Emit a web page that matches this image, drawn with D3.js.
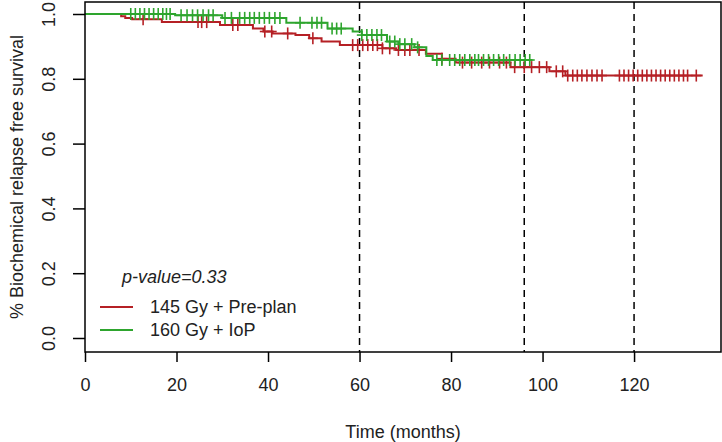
<!DOCTYPE html>
<html><head><meta charset="utf-8">
<script src="https://cdnjs.cloudflare.com/ajax/libs/d3/7.8.5/d3.min.js"></script>
<style>
body{margin:0;background:#fff;}
svg{display:block;font-family:"Liberation Sans",Arial,sans-serif;}
</style></head>
<body><svg id="c" width="722" height="442"></svg>
<script>
// ---- data ----
const xTicks = [0, 20, 40, 60, 80, 100, 120];
const yTicks = [0, 0.2, 0.4, 0.6, 0.8, 1.0];
const refLines = [60, 96, 120];
const seriesNames = ["145 Gy + Pre-plan", "160 Gy + IoP"];
const pValueText = "p-value=0.33";

// 145 Gy + Pre-plan: event times and survival after each event
const redTimes = [7.9, 8.8, 10.3, 16.8, 29.5, 36.7, 39, 41, 46, 49, 51.7, 55.7, 65, 68, 74.5, 78, 81, 93, 101.5, 105];
const redSurv  = [0.993, 0.988, 0.984, 0.975, 0.966, 0.955, 0.946, 0.94, 0.935, 0.925, 0.915, 0.904, 0.894, 0.889, 0.877, 0.862, 0.85, 0.836, 0.823, 0.81];
const redEnd = 135;
const redCensor = [12.7, 24.7, 25.5, 26.6, 32.3, 33.4, 39.3, 40.8, 44.3, 49.8, 58.5, 59.6, 60.7, 61.8, 62.9, 63.9, 65, 66.6, 68.5, 69.9, 71, 73, 78,
  82.5, 84.5, 86.7, 88.4, 90.6, 92.1, 93.9, 96, 97.6, 99.3, 100.9, 103, 104.4, 105.5, 106.6, 107.6, 108.6, 109.7, 110.8, 111.9, 113,
  116.8, 117.8, 118.8, 119.8, 120.8, 121.8, 122.8, 123.8, 124.8, 125.8, 126.8, 127.8, 128.8, 129.8, 130.8, 131.7, 133.6];

// 160 Gy + IoP
const greenTimes = [19.7, 30, 44, 53, 58.5, 60.5, 66, 68.5, 72, 74.6, 76];
const greenSurv  = [0.996, 0.988, 0.973, 0.955, 0.946, 0.935, 0.915, 0.907, 0.897, 0.87, 0.858];
const greenEnd = 97.8;
const greenCensor = [10, 11, 12, 13, 14, 15, 16, 17, 17.8, 18.6, 21, 22.3, 23.5, 24.6, 25.8, 27, 28, 30.6, 32, 33.8,
  34.9, 36, 37, 38.1, 39.2, 40.3, 41.5, 42.6, 47, 49.6, 50.7, 51.7, 54, 55, 56, 60.5, 61.6, 62.7, 63.8, 64.8,
  66.6, 67.7, 68.8, 69.9, 71.4, 72.7, 76.9, 78, 79.7, 80.8, 81.9, 83, 84.1, 85.2, 86, 87.1, 88.2, 89.3, 90.4, 91.5, 92.8,
  94, 95.1, 96.2, 97.2];

// ---- layout ----
const box = {l: 85, r: 721, t: 2, b: 352};
const x = d3.scaleLinear().domain([0, 139]).range([box.l, box.r]);
const y = d3.scaleLinear().domain([0, 1]).range([338, 14]);
const redCol = "#b52025", greenCol = "#2ea52e";
const FS = 18;

const svg = d3.select("#c");

// reference dashed lines
svg.append("g").selectAll("line").data(refLines).join("line")
  .attr("x1", d => x(d)).attr("x2", d => x(d))
  .attr("y1", box.t).attr("y2", box.b)
  .attr("stroke", "#000").attr("stroke-width", 1.5).attr("stroke-dasharray", "7,5");

function stepPts(times, surv, end) {
  const pts = [[0, 1]];
  times.forEach((t, i) => pts.push([t, surv[i]]));
  pts.push([end, surv[surv.length - 1]]);
  return pts;
}
function survAt(times, surv, t) {
  let s = 1;
  for (let i = 0; i < times.length; i++) if (times[i] <= t) s = surv[i];
  return s;
}
const line = d3.line().x(d => x(d[0])).y(d => y(d[1])).curve(d3.curveStepAfter);

function drawSeries(times, surv, end, censor, col) {
  const g = svg.append("g");
  g.append("path").datum(stepPts(times, surv, end))
    .attr("d", line).attr("fill", "none").attr("stroke", col).attr("stroke-width", 2);
  const c = g.selectAll("g.c").data(censor).join("g")
    .attr("transform", d => `translate(${x(d)},${y(survAt(times, surv, d))})`);
  c.append("line").attr("x1", 0).attr("x2", 0).attr("y1", -6).attr("y2", 6)
    .attr("stroke", col).attr("stroke-width", 1.6);
  c.append("line").attr("x1", -5).attr("x2", 5).attr("y1", 0).attr("y2", 0)
    .attr("stroke", col).attr("stroke-width", 1.6);
}
drawSeries(redTimes, redSurv, redEnd, redCensor, redCol);
drawSeries(greenTimes, greenSurv, greenEnd, greenCensor, greenCol);

// box
svg.append("rect").attr("x", box.l).attr("y", box.t)
  .attr("width", box.r - box.l).attr("height", box.b - box.t)
  .attr("fill", "none").attr("stroke", "#000").attr("stroke-width", 1.5);

// x axis
const xa = svg.append("g").attr("transform", `translate(0,${box.b})`)
  .call(d3.axisBottom(x).tickValues(xTicks).tickSize(10).tickPadding(16).tickFormat(d3.format("d")));
xa.select(".domain").remove();
xa.selectAll("line").attr("stroke-width", 1.5);
xa.selectAll("text").attr("font-size", FS).attr("fill", "#222").attr("font-family", "Liberation Sans, Arial, sans-serif");

// y axis
const ya = svg.append("g").attr("transform", `translate(${box.l},0)`)
  .call(d3.axisLeft(y).tickValues(yTicks).tickSize(12).tickFormat(d3.format(".1f")));
ya.select(".domain").remove();
ya.selectAll("line").attr("stroke-width", 1.5);
ya.selectAll("text").attr("x", null).attr("dy", null)
  .attr("text-anchor", "middle").attr("transform", "translate(-30,0) rotate(-90)")
  .attr("font-size", FS).attr("fill", "#222").attr("font-family", "Liberation Sans, Arial, sans-serif");

// axis titles
svg.append("text").attr("x", (box.l + box.r) / 2).attr("y", 438).attr("text-anchor", "middle")
  .attr("font-size", FS).attr("fill", "#222").text("Time (months)");
svg.append("text").attr("transform", `translate(23,${(box.t + box.b) / 2}) rotate(-90)`)
  .attr("text-anchor", "middle").attr("font-size", FS).attr("fill", "#222")
  .text("% Biochemical relapse free survival");

// p-value + legend
svg.append("text").attr("x", 122).attr("y", 283).attr("font-size", FS).attr("font-style", "italic")
  .attr("fill", "#222").text(pValueText);
const leg = svg.append("g").selectAll("g").data(seriesNames).join("g")
  .attr("transform", (d, i) => `translate(0,${307 + i * 23})`);
leg.append("line").attr("x1", 100).attr("x2", 133).attr("y1", 0).attr("y2", 0)
  .attr("stroke", (d, i) => i === 0 ? redCol : greenCol).attr("stroke-width", 2);
leg.append("text").attr("x", 150).attr("y", 6).attr("font-size", FS).attr("fill", "#222").text(d => d);
</script></body></html>
